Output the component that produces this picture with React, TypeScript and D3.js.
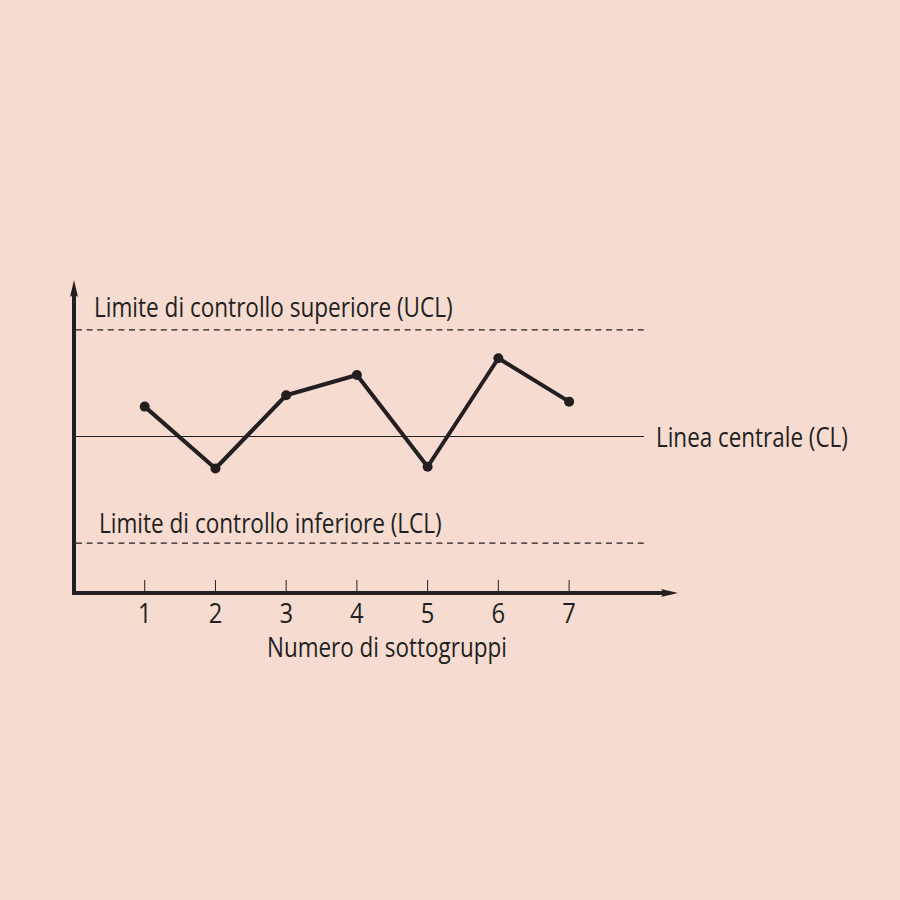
import * as d3 from 'd3';
import { useEffect, useRef } from 'react';

const width = 900;
const height = 900;

// subgroup numbers and measured values (centre line = 0)
const subgroups = [1, 2, 3, 4, 5, 6, 7];
const values = [0.84, -0.9, 1.16, 1.73, -0.85, 2.2, 0.98];

const limits = { ucl: 3, cl: 0, lcl: -3 };

const labels = {
  ucl: 'Limite di controllo superiore (UCL)',
  cl: 'Linea centrale (CL)',
  lcl: 'Limite di controllo inferiore (LCL)',
  x: 'Numero di sottogruppi',
};

const ink = '#231f20';
const bg = '#f5dbd0';
const font = "'Open Sans', 'DejaVu Sans Condensed', sans-serif";

const x = d3.scaleLinear().domain([0, 8.54]).range([74, 678]);
const y = d3.scaleLinear().domain([-4.4, 4.4]).range([593, 280]);

function App() {
  const svgRef = useRef<SVGSVGElement>(null);

  // squeeze the labels horizontally to the condensed width of the original type
  useEffect(() => {
    const svg = d3.select(svgRef.current);
    svg.selectAll<SVGTextElement, unknown>('text.fit').each(function () {
      const target = +(this.getAttribute('data-w') || 0);
      const len = this.getComputedTextLength();
      if (len > 0) this.setAttribute('transform', `scale(${target / len},1)`);
    });
    svg.selectAll<SVGTextElement, unknown>('text.digit').attr('transform', 'scale(0.85,1)');
  }, []);

  const pts = subgroups.map((s, i) => [s, values[i]] as [number, number]);
  const line = d3
    .line<[number, number]>()
    .x((d) => x(d[0]))
    .y((d) => y(d[1]));

  const x0 = x(0);
  const y0 = y(-4.4);
  const xEnd = x(8.54);
  const yTop = y(4.4);
  const lineEnd = 644;

  const label = (text: string, lx: number, ly: number, w: number) => (
    <g transform={`translate(${lx},${ly})`}>
      <text className="fit" data-w={w} x={0} y={0} fontFamily={font} fontSize={28} fill={ink}>
        {text}
      </text>
    </g>
  );

  return (
    <svg
      ref={svgRef}
      width={width}
      height={height}
      style={{ position: 'absolute', left: 0, top: 0, background: bg }}
    >
      <rect width={width} height={height} fill={bg} />

      {/* limit lines */}
      <line
        x1={x0 + 2}
        x2={lineEnd}
        y1={y(limits.ucl)}
        y2={y(limits.ucl)}
        stroke={ink}
        strokeWidth={1.2}
        strokeDasharray="6 4.6"
      />
      <line
        x1={x0 + 2}
        x2={lineEnd}
        y1={y(limits.cl)}
        y2={y(limits.cl)}
        stroke={ink}
        strokeWidth={1.2}
      />
      <line
        x1={x0 + 2}
        x2={lineEnd}
        y1={y(limits.lcl)}
        y2={y(limits.lcl)}
        stroke={ink}
        strokeWidth={1.2}
        strokeDasharray="6 4.6"
      />

      {/* axes */}
      <line x1={x0} x2={x0} y1={y0 + 2} y2={yTop + 14} stroke={ink} strokeWidth={4} />
      <line x1={x0 - 2} x2={xEnd - 14} y1={y0} y2={y0} stroke={ink} strokeWidth={4} />
      <path
        d={`M${x0},${yTop} L${x0 + 4},${yTop + 17} L${x0},${yTop + 14} L${x0 - 4},${yTop + 17} Z`}
        fill={ink}
      />
      <path
        d={`M${xEnd},${y0} L${xEnd - 17},${y0 - 4} L${xEnd - 14},${y0} L${xEnd - 17},${y0 + 4} Z`}
        fill={ink}
      />

      {/* ticks */}
      {subgroups.map((s) => (
        <g key={s}>
          <line
            x1={x(s)}
            x2={x(s)}
            y1={y0 - 13}
            y2={y0}
            stroke={ink}
            strokeWidth={1}
          />
          <g transform={`translate(${x(s)},623)`}>
            <text
              className="digit"
              x={0}
              y={0}
              textAnchor="middle"
              fontFamily={font}
              fontSize={28}
              fill={ink}
            >
              {s}
            </text>
          </g>
        </g>
      ))}

      {/* data */}
      <path
        d={line(pts) || ''}
        fill="none"
        stroke={ink}
        strokeWidth={4}
        strokeLinejoin="round"
      />
      {pts.map((d) => (
        <circle key={d[0]} cx={x(d[0])} cy={y(d[1])} r={5} fill={ink} />
      ))}

      {/* labels */}
      {label(labels.ucl, 94, 317, 359)}
      {label(labels.cl, 656, 447, 192)}
      {label(labels.lcl, 99, 533, 343)}
      {label(labels.x, 267, 657, 240)}
    </svg>
  );
}

export default App;
